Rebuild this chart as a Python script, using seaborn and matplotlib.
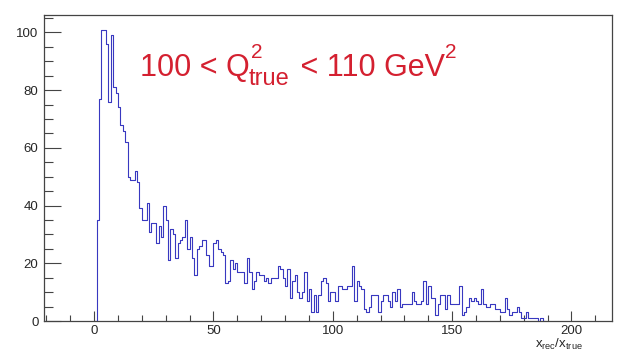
import numpy as np
import pandas as pd
import matplotlib
matplotlib.use("Agg")
import matplotlib.pyplot as plt
import seaborn as sns
from matplotlib.ticker import MultipleLocator, FixedLocator

# ---- data ----
bin_low = list(range(0, 189))  # lower edge of each 1-unit bin
counts = [
    0, 35, 77, 101, 101, 96, 76, 99, 81, 79,
    74, 68, 66, 62, 50, 49, 49, 52, 48, 39,
    35, 35, 41, 31, 34, 34, 27, 33, 29, 40,
    35, 21, 32, 30, 22, 27, 28, 29, 35, 25,
    29, 22, 16, 25, 26, 28, 28, 23, 19, 19,
    27, 28, 25, 24, 23, 13, 14, 21, 18, 20,
    17, 17, 17, 13, 22, 17, 11, 14, 17, 16,
    16, 14, 15, 13, 15, 15, 15, 19, 18, 15,
    12, 18, 8, 14, 16, 10, 8, 10, 17, 7,
    11, 3, 9, 3, 9, 14, 15, 13, 7, 10,
    10, 7, 12, 12, 11, 11, 12, 12, 19, 7,
    14, 12, 11, 4, 3, 5, 9, 9, 9, 3,
    7, 9, 9, 7, 5, 10, 7, 11, 5, 6,
    6, 6, 6, 10, 7, 6, 6, 7, 14, 6,
    12, 8, 8, 2, 6, 9, 9, 4, 9, 6,
    6, 6, 6, 12, 2, 3, 5, 8, 7, 8,
    7, 6, 11, 6, 5, 5, 6, 6, 4, 4,
    3, 3, 8, 4, 2, 3, 3, 5, 3, 1,
    1, 3, 1, 1, 1, 1, 0, 1, 0,
]
x_tick_values = [0, 50, 100, 150, 200]
y_tick_values = [0, 20, 40, 60, 80, 100]
# title pieces (ROOT TLatex: "100 < Q^{2}_{true} < 110 GeV^{2}")
title_main1 = "100 < Q"
title_sup1 = "2"
title_sub1 = "true"
title_main2 = " < 110 GeV"
title_sup2 = "2"
x_title = r"x$_{\mathrm{rec}}$/x$_{\mathrm{true}}$"

df = pd.DataFrame({"x": np.array(bin_low, dtype=float) + 0.5,
                   "n": np.array(counts, dtype=float)})

sns.set_theme(style="ticks")
plt.rcParams["font.family"] = ["Liberation Sans", "DejaVu Sans"]
plt.rcParams["mathtext.fontset"] = "custom"
plt.rcParams["mathtext.rm"] = "Liberation Sans"
plt.rcParams["mathtext.it"] = "Liberation Sans"
plt.rcParams["mathtext.default"] = "regular"

W, H = 625, 357
fig = plt.figure(figsize=(W / 100, H / 100), dpi=100)
fig.patch.set_facecolor("white")
ax = fig.add_axes([44 / W, 36 / H, 568 / W, 306 / H])

sns.histplot(
    data=df, x="x", weights="n", binwidth=1, binrange=(0, 189),
    element="step", fill=False, color="#3838c0", linewidth=0.8, ax=ax,
)

ax.set_xlim(-21, 217)
ax.set_ylim(0, 106.05)
ax.set_xlabel("")
ax.set_ylabel("")

for s in ax.spines.values():
    s.set_visible(True)
    s.set_color("#444444")
    s.set_linewidth(0.9)

ax.xaxis.set_major_locator(FixedLocator(x_tick_values))
ax.xaxis.set_minor_locator(MultipleLocator(10))
ax.yaxis.set_major_locator(FixedLocator(y_tick_values))
ax.yaxis.set_minor_locator(MultipleLocator(5))
ax.tick_params(axis="x", which="major", direction="in", length=7.2, width=0.8,
               color="#444444", labelsize=9.5, pad=3, top=False)
ax.tick_params(axis="x", which="minor", direction="in", length=4, width=0.8,
               color="#444444", top=False)
ax.tick_params(axis="y", which="major", direction="in", length=12.2, width=0.8,
               color="#444444", labelsize=9.5, pad=4, right=False)
ax.tick_params(axis="y", which="minor", direction="in", length=6.3, width=0.8,
               color="#444444", right=False)

fig.text(583 / W, 1 - 337 / H, x_title, ha="right", va="top", fontsize=9.5)

# ---- title built from pieces (ROOT TLatex style) ----
red = "#d42030"
main_fs = 22
sup_fs = 15
sub_fs = 17
base_px = 76          # baseline, pixels from top
sup_px = base_px - 18
sub_px = base_px + 9
renderer = fig.canvas.get_renderer()


def put(txt, x_px, y_px, fs):
    t = fig.text(x_px / W, 1 - y_px / H, txt, ha="left", va="baseline",
                 fontsize=fs, color=red)
    bb = t.get_window_extent(renderer=renderer)
    return t, bb.x1  # right edge in display pixels


x = 140.0
_, x1 = put(title_main1, x, base_px, main_fs)
x = x1 + 1
_, xa = put(title_sup1, x, sup_px, sup_fs)
_, xb = put(title_sub1, x - 2, sub_px, sub_fs)
x = max(xa, xb) + 3
_, x1 = put(title_main2, x, base_px, main_fs)
x = x1 - 1
put(title_sup2, x, sup_px, sup_fs)

fig.savefig("out.png", dpi=100)
